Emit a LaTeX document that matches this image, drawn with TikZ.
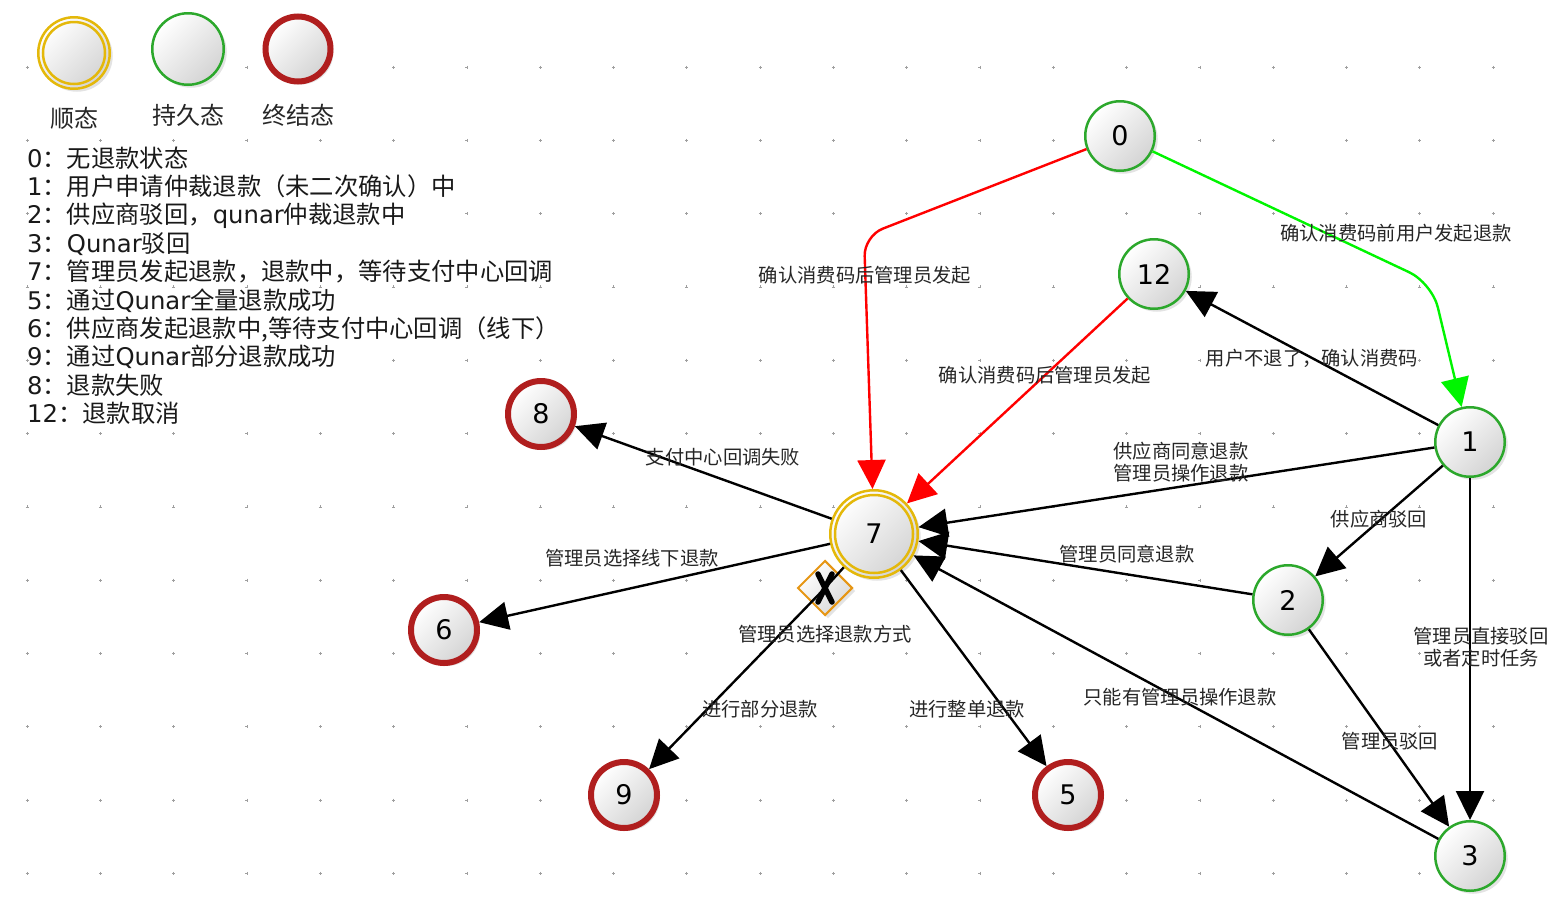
\documentclass[tikz,border=0pt]{standalone}
\usepackage{fontspec}
\setmainfont{DejaVu Sans}
\newfontfamily\cjk{Noto Sans CJK SC}
\usetikzlibrary{arrows.meta,shapes.geometric,shadows}
\definecolor{sgreen}{RGB}{44,168,44}
\definecolor{sred}{RGB}{176,30,30}
\definecolor{syellow}{RGB}{228,184,10}
\definecolor{gorange}{RGB}{230,150,20}
\definecolor{egreen}{RGB}{0,245,0}
\definecolor{ered}{RGB}{255,0,0}
\tikzset{
  state/.style={circle, inner sep=0pt, top color=white, bottom color=black!17, shading angle=45,
    drop shadow={shadow xshift=3pt, shadow yshift=-3pt, opacity=0.22},
    font=\fontsize{27}{27}\selectfont},
  persist/.style={state, draw=sgreen, line width=2.5pt, minimum size=69.5pt},
  final/.style={state, draw=sred, line width=6pt, minimum size=66pt},
  transient/.style={state, draw=syellow, line width=2.5pt, minimum size=87.5pt},
  gateway/.style={diamond, draw=gorange, line width=2pt, minimum width=55pt, minimum height=55pt,
    inner sep=0pt, top color=white, bottom color=black!15, shading angle=45,
    drop shadow={shadow xshift=3pt, shadow yshift=-3pt, opacity=0.22}},
  edge/.style={line width=2.4pt, -{Triangle[length=29pt,width=28pt]}},
  lbl/.style={font=\cjk\fontsize{19.3}{22.5}\selectfont, text=black!85, inner sep=0pt, align=center},
  leg/.style={font=\fontsize{24.3}{28}\selectfont, text=black!90, inner sep=0pt, anchor=base west},
  legt/.style={font=\cjk\fontsize{24}{28}\selectfont, text=black!85, inner sep=0pt},
  gdot/.style={gray!75, line width=0.6pt},
  xmark/.style={line width=5.5pt, line cap=round}
}
\begin{document}
\begin{tikzpicture}[x=1pt,y=-1pt]
\useasboundingbox (0,0) rectangle (1563,908);
% grid dots
\foreach \i in {0,...,20}{
  \foreach \j in {0,...,11}{
    \draw[gdot] (27+73.3*\i-1.5, 67+73.3*\j) -- ++(3,0);
    \draw[gdot] (27+73.3*\i, 67+73.3*\j-1.5) -- ++(0,3);
  }
}
% legend
\node[transient, minimum size=71.5pt] (ly) at (74,53) {};
\draw[syellow, line width=2.5pt] (ly.center) circle[radius=31];
\node[persist, minimum size=71.5pt] (lg) at (188,49) {};
\node[final, minimum size=65pt] (lr) at (298,49) {};
\node[legt] (lyt) at (74,118) {顺态};
\node[legt] (lgt) at (188,115) {持久态};
\node[legt] (lrt) at (298,115) {终结态};

\node[leg] (t0) at (27,167.0) {0{\cjk ：无退款状态}};
\node[leg] (t1) at (27,195.4) {1{\cjk ：用户申请仲裁退款（未二次确认）中}};
\node[leg] (t2) at (27,223.8) {2{\cjk ：供应商驳回，}qunar{\cjk 仲裁退款中}};
\node[leg] (t3) at (27,252.2) {3{\cjk ：}Qunar{\cjk 驳回}};
\node[leg] (t7) at (27,280.6) {7{\cjk ：管理员发起退款，退款中，等待支付中心回调}};
\node[leg] (t5) at (27,309.0) {5{\cjk ：通过}Qunar{\cjk 全量退款成功}};
\node[leg] (t6) at (27,337.4) {6{\cjk ：供应商发起退款中}{\cjk ,等待支付中心回调（线下）}};
\node[leg] (t9) at (27,365.8) {9{\cjk ：通过}Qunar{\cjk 部分退款成功}};
\node[leg] (t8) at (27,394.2) {8{\cjk ：退款失败}};
\node[leg] (t12) at (27,422.6) {12{\cjk ：退款取消}};

% states
\node[persist] (n0) at (1120,136) {0};
\node[persist] (n12) at (1154,274) {12};
\node[persist] (n1) at (1470,442) {1};
\node[persist] (n2) at (1288,600) {2};
\node[persist] (n3) at (1470,856) {3};
\node[transient] (n7) at (874,534) {7};
\draw[syellow, line width=2.5pt] (n7.center) circle[radius=39];
\node[final] (n8) at (541,414) {8};
\node[final] (n6) at (444,630) {6};
\node[final] (n9) at (624,795) {9};
\node[final] (n5) at (1068,795) {5};
\node[gateway] (gw) at (825,588) {};
\draw[xmark] ([shift={(-7,-14)}]gw.center) -- ([shift={(7,14)}]gw.center);
\draw[xmark] ([shift={(7,-14)}]gw.center) -- ([shift={(-7,14)}]gw.center);

% connectors
\coordinate (c07) at (864,236);
\coordinate (c01) at (1432,283);
\draw[edge, ered, rounded corners=20pt] (n0) -- (c07) -- (n7);
\draw[edge, egreen, rounded corners=25pt] (n0) -- (c01) -- (n1);
\draw[edge, ered] (n12) -- (n7);
\draw[edge] (n1) -- (n12);
\draw[edge] (n1) -- (n7);
\draw[edge] (n1) -- (n2);
\draw[edge] (n1) -- (n3);
\draw[edge] (n2) -- (n7);
\draw[edge] (n2) -- (n3);
\draw[edge] (n3) -- (n7);
\draw[edge] (n7) -- (n8);
\draw[edge] (n7) -- (n6);
\draw[edge] (n7) -- (gw.center) -- (n9);
\draw[edge] (n7) -- (n5);

% labels
\node[lbl] (l1) at (865,275) {确认消费码后管理员发起};
\node[lbl] (l2) at (1396,233) {确认消费码前用户发起退款};
\node[lbl] (l3) at (1045,375) {确认消费码后管理员发起};
\node[lbl] (l4) at (1312,358) {用户不退了，确认消费码};
\node[lbl] (l5) at (1181,462) {供应商同意退款\\管理员操作退款};
\node[lbl] (l6) at (1379,519) {供应商驳回};
\node[lbl] (l7) at (1481,647) {管理员直接驳回\\或者定时任务};
\node[lbl] (l8) at (1127,554) {管理员同意退款};
\node[lbl] (l9) at (1390,741) {管理员驳回};
\node[lbl] (l10) at (1180,697) {只能有管理员操作退款};
\node[lbl] (l11) at (723,457) {支付中心回调失败};
\node[lbl] (l12) at (632,558) {管理员选择线下退款};
\node[lbl] (l13) at (825,634) {管理员选择退款方式};
\node[lbl] (l14) at (760,709) {进行部分退款};
\node[lbl] (l15) at (967,709) {进行整单退款};
\end{tikzpicture}
\end{document}
